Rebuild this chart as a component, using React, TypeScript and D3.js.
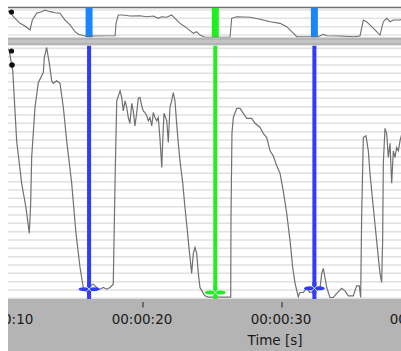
import React, { useEffect, useRef } from 'react';
import * as d3 from 'd3';

// main trace (time in s, value)
const mainTimes = [
  10.2, 10.38, 10.63, 10.91, 11.27, 11.58, 11.82, 11.92, 11.99, 12.23, 12.47, 12.83, 12.9, 13.07, 13.26,
  13.43, 13.55, 13.79, 14.03, 14.27, 14.51, 14.87, 15.18, 15.47, 15.71, 15.95, 16.19, 16.42, 16.67, 16.91,
  17.14, 17.39, 17.63, 17.86, 17.99, 18.11, 18.35, 18.47, 18.58, 18.71, 18.83, 18.94, 19.06, 19.19, 19.3,
  19.42, 19.55, 19.66, 19.78, 19.91, 20.02, 20.14, 20.27, 20.38, 20.5, 20.63, 20.74, 20.86, 20.99, 21.1,
  21.22, 21.35, 21.42, 21.51, 21.71, 21.82, 21.94, 22.06, 22.18, 22.3, 22.42, 22.54, 22.66, 22.86, 23.02,
  23.19, 23.33, 23.5, 23.62, 23.74, 23.86, 23.98, 24.1, 24.34, 24.46, 24.68, 26.31, 26.33, 26.4, 26.5,
  26.74, 26.98, 27.22, 27.46, 27.82, 28.06, 28.42, 28.65, 28.9, 29.14, 29.37, 29.62, 29.86, 30.09, 30.34,
  30.58, 30.77, 30.94, 31.17, 31.29, 31.53, 31.78, 32.01, 32.37, 32.73, 32.86, 32.97, 33.09, 33.22, 33.45,
  33.69, 33.94, 34.29, 34.53, 34.77, 35.13, 35.37, 35.56, 35.66, 35.73, 35.85, 36.04, 36.21, 36.33, 36.57,
  36.81, 37.05, 37.17, 37.24, 37.29, 37.41, 37.53, 37.65, 37.77, 37.89, 38.01, 38.13, 38.25, 38.37, 38.49,
  38.6,
];
const mainValues = [
  30, 29.6, 27.2, 18.8, 13.7, 10.8, 7.7, 11.3, 16.8, 22.8, 25.8, 27, 28.8, 30, 28.1,
  26, 25.7, 26, 25.7, 22.8, 18.8, 13.7, 7.7, 3.6, 1.1, 0.7, 1.4, 1.6, 1.2, 1.0,
  1.2, 1.0, 1.2, 1.6, 14, 23.6, 24.8, 24, 22.4, 23.6, 22.8, 21.6, 20.9, 23.3, 22.4,
  20.6, 22.2, 23.9, 24, 23, 22.4, 22.2, 21.8, 21.2, 21.6, 20.6, 22.2, 21.6, 21.2, 21.6,
  19.1, 15.6, 18.8, 22.1, 21.2, 18.6, 22.8, 23.6, 24.6, 23.6, 20.9, 18.5, 16.4, 13.7, 10.8,
  8, 5.6, 2.9, 5.3, 6, 5.3, 2.9, 1.2, 0.5, 0.2, 0.05, 0.05, 9.5, 19.7, 21.6,
  22.7, 22.7, 22.1, 21.5, 21.5, 20.9, 20.4, 19.7, 19.2, 17.6, 17, 15.8, 14.9, 12.8, 10.1,
  6.8, 3.6, 1.7, 0.1, 0.6, 0.6, 1.1, 0.6, 0.8, 1.1, 2.9, 3.5, 2.4, 1.2, 0,
  0, 0.5, 1.1, 0.8, 0.2, 0.2, 1.4, 1.4, 0, 9.6, 19.2, 19.4, 17.6, 14.9, 10.8,
  6.8, 2.9, 1.8, 6.8, 16.1, 20.3, 19.7, 16.8, 18.5, 13.7, 17.6, 16.8, 18, 17.6, 18.8,
  19.5,
];

// overview trace
const overviewTimes = [
  10.2, 10.38, 10.79, 11.15, 11.51, 11.87, 12.04, 12.35, 12.71, 12.95, 13.31, 13.67, 14.03, 14.39, 14.75,
  15.11, 15.35, 15.83, 17.99, 18.06, 18.22, 18.58, 19.06, 19.78, 20.27, 20.74, 21.1, 21.35, 21.71, 22.06,
  22.3, 22.66, 23.02, 23.38, 23.62, 23.86, 24.1, 24.46, 26.26, 26.38, 26.74, 27.7, 28.42, 29.14, 29.86,
  30.34, 30.7, 31.06, 32.61, 32.97, 33.22, 34.17, 35.13, 35.61, 35.85, 36.09, 36.45, 36.81, 37.05, 37.29,
  37.53, 37.77, 38.01, 38.49, 38.6,
];
const overviewValues = [
  28.5, 27.2, 20.2, 14.9, 12.1, 7.9, 18.4, 25.5, 27.2, 28.9, 27.2, 26.1, 25.5, 18.4, 13.2,
  6.1, 3.4, 1.6, 1.9, 14.9, 23.7, 23.7, 22.6, 22.9, 21.9, 22.6, 20.2, 21.9, 21.3, 23.7,
  20.2, 14.9, 11.4, 7.2, 4.4, 6.1, 2.6, 0.2, 0.2, 20.2, 21.9, 21.3, 19.2, 16.6, 14.9,
  11.4, 6.1, 0.8, 0.8, 3.4, 1.9, 1.6, 0.8, 1.6, 18.4, 16.6, 11.4, 6.1, 2.6, 16.6,
  20.2, 16.6, 18.4, 18.4, 19,
];

const markerTimes = [16.12, 25.2, 32.33];
const markerKinds = ['blue', 'green', 'blue'];
const markerLevels = [1.0, 0.6, 1.1];
const tickTimes = [10, 20, 30, 40];
const axisTitle = 'Time [s]';

const mainColors: Record<string, string> = { blue: '#2f3dfb', green: '#22ee22' };
const overviewColors: Record<string, string> = { blue: '#1b86fb', green: '#22ee22' };

function fmtTime(t: number) {
  const s = Math.round(t);
  const hh = String(Math.floor(s / 3600)).padStart(2, '0');
  const mm = String(Math.floor((s % 3600) / 60)).padStart(2, '0');
  const ss = String(s % 60).padStart(2, '0');
  return hh + ':' + mm + ':' + ss;
}

export default function App() {
  const ref = useRef<SVGSVGElement>(null);

  useEffect(() => {
    const width = 401;
    const height = 351;
    const left = 8;
    const ovTop = 8, ovBottom = 37.5;
    const mainTop = 45.5, mainBottom = 299;

    const svg = d3.select(ref.current);
    svg.selectAll('*').remove();

    const x = d3.scaleLinear().domain([10, 40]).range([4, 421]);
    const yMain = d3.scaleLinear().domain([0, 30]).range([297.5, 47.5]);
    const yOv = d3.scaleLinear().domain([0, 30]).range([37.5, 9]);

    const defs = svg.append('defs');
    defs.append('clipPath').attr('id', 'clipAll')
      .append('rect').attr('x', left).attr('y', 0).attr('width', width - left).attr('height', height);
    defs.append('clipPath').attr('id', 'clipOv')
      .append('rect').attr('x', left).attr('y', ovTop).attr('width', width - left).attr('height', ovBottom - ovTop);
    defs.append('clipPath').attr('id', 'clipMain')
      .append('rect').attr('x', left).attr('y', mainTop).attr('width', width - left).attr('height', mainBottom - mainTop);

    const root = svg.append('g').attr('clip-path', 'url(#clipAll)');

    // backgrounds
    root.append('rect').attr('x', left).attr('y', ovTop).attr('width', width - left).attr('height', ovBottom - ovTop).attr('fill', '#fff');
    root.append('rect').attr('x', left).attr('y', ovBottom).attr('width', width - left).attr('height', mainTop - ovBottom).attr('fill', '#b5b5b5');
    root.append('rect').attr('x', left).attr('y', ovBottom + 2.5).attr('width', width - left).attr('height', 3).attr('fill', '#c4c4c4');
    root.append('rect').attr('x', left).attr('y', mainBottom).attr('width', width - left).attr('height', height - mainBottom).attr('fill', '#b4b4b4');
    root.append('line').attr('x1', left).attr('x2', width).attr('y1', 7.5).attr('y2', 7.5)
      .attr('stroke', '#707070').attr('stroke-width', 1.5);

    // overview panel
    const ov = root.append('g').attr('clip-path', 'url(#clipOv)');
    ov.selectAll('line.grid').data(d3.range(35, ovTop, -8.33)).join('line')
      .attr('x1', left).attr('x2', width).attr('y1', (d) => d).attr('y2', (d) => d)
      .attr('stroke', '#e2e2e2').attr('stroke-width', 1.5);
    ov.selectAll('rect.mk').data(markerTimes).join('rect')
      .attr('x', (d) => x(d) - 3.5).attr('y', ovTop).attr('width', 7).attr('height', ovBottom - ovTop)
      .attr('fill', (d, i) => overviewColors[markerKinds[i]]);
    const ovLine = d3.line<number>().x((d, i) => x(overviewTimes[i])).y((d) => yOv(d));
    ov.append('path').datum(overviewValues).attr('d', ovLine)
      .attr('fill', 'none').attr('stroke', '#6e6e6e').attr('stroke-width', 1.1);
    ov.append('circle').attr('cx', 11.5).attr('cy', 12).attr('r', 2.6).attr('fill', '#111');

    // main panel
    const mp = root.append('g').attr('clip-path', 'url(#clipMain)');
    mp.append('rect').attr('x', left).attr('y', mainTop).attr('width', width - left).attr('height', mainBottom - mainTop).attr('fill', '#fff');
    mp.selectAll('line.grid').data(d3.range(298.3, mainTop, -8.333)).join('line')
      .attr('x1', left).attr('x2', width).attr('y1', (d) => d).attr('y2', (d) => d)
      .attr('stroke', '#e0e0e0').attr('stroke-width', 1.5);

    const mainLine = d3.line<number>().x((d, i) => x(mainTimes[i])).y((d) => yMain(d));
    mp.append('path').datum(mainValues).attr('d', mainLine)
      .attr('fill', 'none').attr('stroke', '#707070').attr('stroke-width', 1.2);

    mp.selectAll('rect.mk').data(markerTimes).join('rect')
      .attr('x', (d) => x(d) - 2).attr('y', mainTop).attr('width', 4).attr('height', mainBottom - mainTop)
      .attr('fill', (d, i) => mainColors[markerKinds[i]]);

    // marker handles at the bottom
    markerTimes.forEach((t, i) => {
      const cx = x(t);
      const cy = yMain(markerLevels[i]);
      const c = mainColors[markerKinds[i]];
      const g = mp.append('g');
      g.append('ellipse').attr('cx', cx - 5).attr('cy', cy).attr('rx', 5.5).attr('ry', 2).attr('fill', c);
      g.append('ellipse').attr('cx', cx + 5).attr('cy', cy).attr('rx', 5.5).attr('ry', 2).attr('fill', c);
      g.append('rect').attr('x', cx - 2).attr('y', cy - 6).attr('width', 4).attr('height', 12).attr('fill', c);
      g.append('path')
        .attr('d', `M${cx - 2.5},${cy - 2.5}L${cx + 2.5},${cy + 2.5}M${cx - 2.5},${cy + 2.5}L${cx + 2.5},${cy - 2.5}`)
        .attr('stroke', '#dfe6ff').attr('stroke-width', 0.9);
    });

    mp.append('circle').attr('cx', 11.5).attr('cy', 51).attr('r', 2.6).attr('fill', '#111');
    mp.append('circle').attr('cx', 12).attr('cy', 65).attr('r', 2.8).attr('fill', '#111');

    // time axis
    const ax = root.append('g');
    ax.selectAll('line.tick').data(tickTimes).join('line')
      .attr('x1', (d) => x(d)).attr('x2', (d) => x(d)).attr('y1', 302).attr('y2', 307.5)
      .attr('stroke', '#222').attr('stroke-width', 1);
    ax.selectAll('text.tick').data(tickTimes).join('text')
      .attr('x', (d) => x(d) - 1).attr('y', 324)
      .attr('text-anchor', 'middle')
      .attr('font-family', 'DejaVu Sans, Verdana, sans-serif').attr('font-size', 13.5).attr('fill', '#1a1a1a')
      .text((d) => fmtTime(d));
    ax.append('text').attr('x', 275).attr('y', 344.5).attr('text-anchor', 'middle')
      .attr('font-family', 'DejaVu Sans, Verdana, sans-serif').attr('font-size', 13.5).attr('fill', '#1a1a1a')
      .text(axisTitle);
  }, []);

  return (
    <svg ref={ref} width={401} height={351}
      style={{ position: 'absolute', left: 0, top: 0, display: 'block' }} />
  );
}
